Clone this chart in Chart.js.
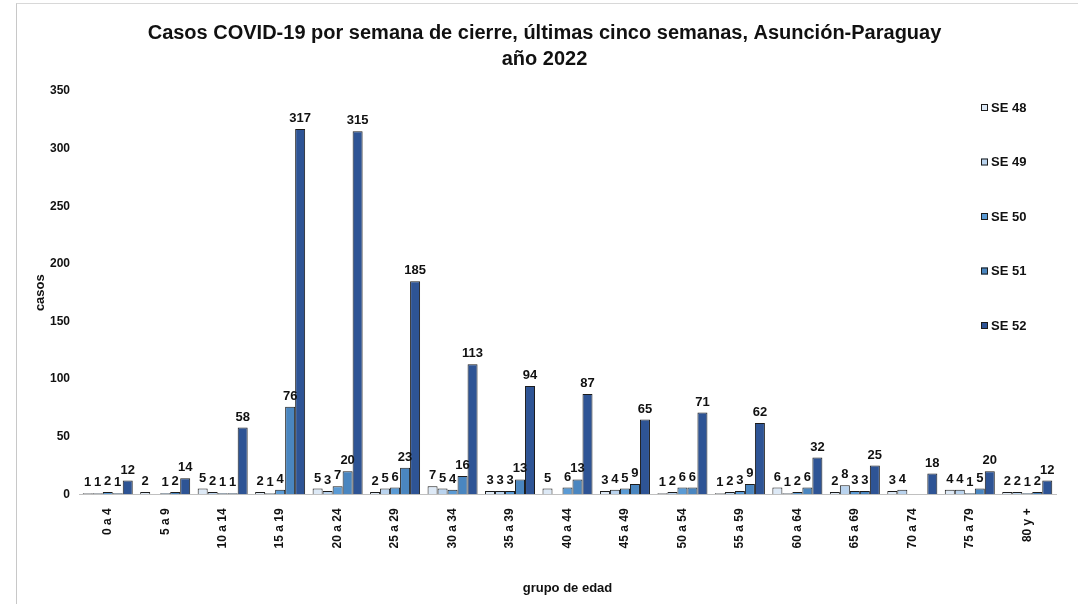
<!DOCTYPE html>
<html>
<head>
    <title>Casos COVID-19 por grupo de edad</title>
    <script src="https://cdn.jsdelivr.net/npm/chart.js"></script>
    <style>
        body { margin: 0; background: #fff; }
        #wrap { position: relative; width: 1078px; height: 604px; }
        #frame { position: absolute; left: 16px; top: 3px; right: 0; bottom: 0; border-left: 1px solid #c8c8c8; border-top: 1px solid #d8d8d8; pointer-events: none; }
    </style>
</head>
<body>
    <div id="wrap">
        <canvas id="casos_chart" width="1078" height="604"></canvas>
        <div id="frame"></div>
    </div>
    <script>
        const FONT = "'Liberation Sans Narrow', 'Liberation Sans', Arial, sans-serif";

        const grupos = ['0 a 4', '5 a 9', '10 a 14', '15 a 19', '20 a 24', '25 a 29', '30 a 34', '35 a 39',
            '40 a 44', '45 a 49', '50 a 54', '55 a 59', '60 a 64', '65 a 69', '70 a 74', '75 a 79', '80 y +'];

        const se48 = [1, 2, 5, 2, 5, 2, 7, 3, 5, 3, 1, 1, 6, 2, 3, 4, 2];
        const se49 = [1, null, 2, 1, 3, 5, 5, 3, null, 4, 2, 2, 1, 8, 4, 4, 2];
        const se50 = [2, 1, 1, 4, 7, 6, 4, 3, 6, 5, 6, 3, 2, 3, null, 1, 1];
        const se51 = [1, 2, 1, 76, 20, 23, 16, 13, 13, 9, 6, 9, 6, 3, null, 5, 2];
        const se52 = [12, 14, 58, 317, 315, 185, 113, 94, 87, 65, 71, 62, 32, 25, 18, 20, 12];

        const semanas = ['SE 48', 'SE 49', 'SE 50', 'SE 51', 'SE 52'];
        const colores = ['#dde9f6', '#b9d3ee', '#5b9bd5', '#4a86c0', '#2e5495'];

        function makeDataset(_label, _data, _color) {
            return {
                label: _label,
                data: _data,
                backgroundColor: _color,
                borderColor: '#1c1c1c',
                borderWidth: 1,
                categoryPercentage: 0.87,
                barPercentage: 1.0
            };
        }

        // etiquetas de valor encima de cada barra
        const valueLabels = {
            id: 'valueLabels',
            afterDatasetsDraw(chart) {
                const ctx = chart.ctx;
                ctx.save();
                ctx.font = 'bold 13px ' + FONT;
                ctx.fillStyle = '#111';
                ctx.textAlign = 'center';
                ctx.textBaseline = 'bottom';
                chart.data.datasets.forEach(function (ds, i) {
                    chart.getDatasetMeta(i).data.forEach(function (bar, j) {
                        const v = ds.data[j];
                        if (v === null || v === undefined) return;
                        ctx.fillText(String(v), bar.x, bar.y - 4);
                    });
                });
                ctx.restore();
            }
        };

        // leyenda vertical dentro del area del grafico, a la derecha
        const sideLegend = {
            id: 'sideLegend',
            afterDraw(chart) {
                const ctx = chart.ctx;
                const area = chart.chartArea;
                const x = area.right - 75;
                ctx.save();
                ctx.font = 'bold 13px ' + FONT;
                ctx.textBaseline = 'middle';
                ctx.textAlign = 'left';
                chart.data.datasets.forEach(function (ds, i) {
                    const y = area.top + 17 + i * 54.5;
                    ctx.fillStyle = ds.backgroundColor;
                    ctx.fillRect(x, y - 4, 7, 7);
                    ctx.strokeStyle = '#1c1c1c';
                    ctx.lineWidth = 1;
                    ctx.strokeRect(x + 0.5, y - 3.5, 6, 6);
                    ctx.fillStyle = '#111';
                    ctx.fillText(ds.label, x + 10, y);
                });
                ctx.restore();
            }
        };

        const ctx = document.getElementById('casos_chart');
        new Chart(ctx, {
            type: 'bar',
            data: {
                labels: grupos,
                datasets: [
                    makeDataset(semanas[0], se48, colores[0]),
                    makeDataset(semanas[1], se49, colores[1]),
                    makeDataset(semanas[2], se50, colores[2]),
                    makeDataset(semanas[3], se51, colores[3]),
                    makeDataset(semanas[4], se52, colores[4])
                ]
            },
            options: {
                responsive: false,
                animation: false,
                layout: { padding: { left: 33, right: 22, top: 0, bottom: 8 } },
                plugins: {
                    legend: { display: false },
                    tooltip: { enabled: false },
                    title: {
                        display: true,
                        text: ['Casos COVID-19 por semana de cierre, últimas cinco semanas, Asunción-Paraguay', 'año 2022'],
                        color: '#111',
                        font: { family: FONT, size: 20, weight: 'bold', lineHeight: 1.3 },
                        padding: { top: 20, bottom: 19 }
                    }
                },
                scales: {
                    x: {
                        grid: { display: false },
                        border: { display: true, color: '#c0c0c0', width: 1 },
                        ticks: {
                            color: '#111',
                            font: { family: FONT, size: 12, weight: 'bold' },
                            minRotation: 90,
                            maxRotation: 90,
                            autoSkip: false,
                            padding: 6
                        },
                        title: {
                            display: true,
                            text: 'grupo de edad',
                            color: '#111',
                            font: { family: FONT, size: 13, weight: 'bold' },
                            padding: { top: 26, bottom: 0 }
                        }
                    },
                    y: {
                        min: 0,
                        max: 350,
                        grid: { display: false },
                        border: { display: false },
                        afterFit: function (scale) { scale.width = 46; },
                        ticks: {
                            stepSize: 50,
                            color: '#111',
                            font: { family: FONT, size: 12, weight: 'bold' },
                            padding: 1
                        },
                        title: {
                            display: true,
                            text: 'casos',
                            color: '#111',
                            font: { family: FONT, size: 13, weight: 'bold' },
                            padding: { top: 0, bottom: 2 }
                        }
                    }
                }
            },
            plugins: [valueLabels, sideLegend]
        });
    </script>
</body>
</html>
